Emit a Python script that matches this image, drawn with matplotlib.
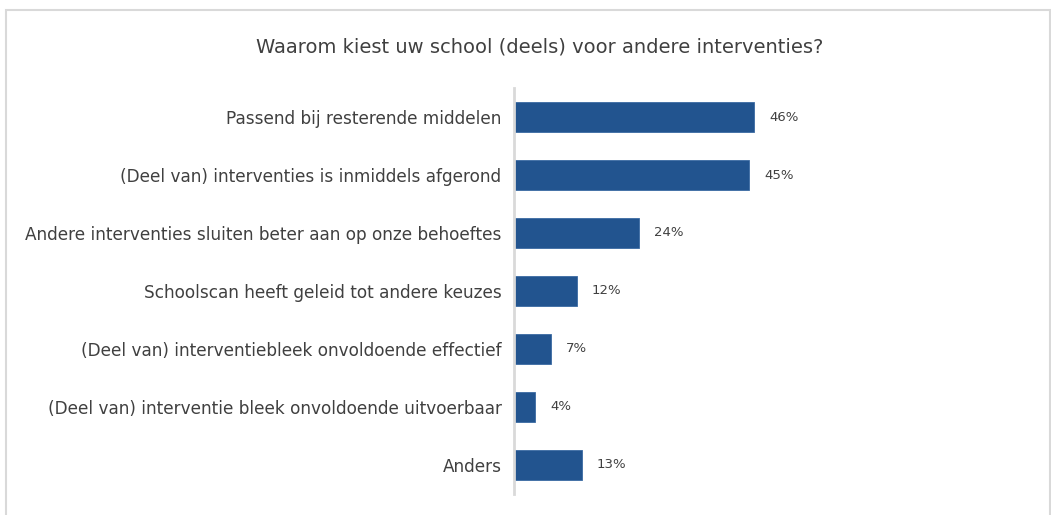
from matplotlib import pyplot as plt
from matplotlib.patches import Rectangle

categories = [
    "Passend bij resterende middelen",
    "(Deel van) interventies is inmiddels afgerond",
    "Andere interventies sluiten beter aan op onze behoeftes",
    "Schoolscan heeft geleid tot andere keuzes",
    "(Deel van) interventiebleek onvoldoende effectief",
    "(Deel van) interventie bleek onvoldoende uitvoerbaar",
    "Anders",
]
values = [46, 45, 24, 12, 7, 4, 13]

W, H = 1051, 515
fig = plt.figure(figsize=(W / 100, H / 100), dpi=100)
fig.patch.set_facecolor("white")

# light grey frame around the chart area
frame = Rectangle((5.5 / W, -0.05), (1050 - 5.5) / W, 1.05 - 9.5 / H,
                  fill=False, edgecolor="#d9d9d9", linewidth=1.5)
frame.set_transform(fig.transFigure)
fig.patches.append(frame)

left, right, top, bottom = 514, 1000, 88, 494
ax = fig.add_axes([left / W, (H - bottom) / H, (right - left) / W, (bottom - top) / H])
px_per_pct = 5.22
ax.set_xlim(0, (right - left) / px_per_pct)
ax.set_ylim(len(categories) - 0.5, -0.5)

ypos = list(range(len(categories)))
ax.barh(ypos, values, height=0.52, color="#22548f", edgecolor="#3a6aa3", linewidth=0.6)

for y, v in zip(ypos, values):
    ax.text(v + 15 / px_per_pct, y, f"{v}%", va="center", ha="left", fontsize=9.5,
            color="#404040", family="DejaVu Sans")

ax.set_yticks(ypos)
ax.set_yticklabels(categories, fontsize=12.2, color="#404040", family="DejaVu Sans")
ax.tick_params(axis="y", length=0, pad=9)
ax.set_xticks([])
for s in ["top", "right", "bottom"]:
    ax.spines[s].set_visible(False)
ax.spines["left"].set_color("#d9d9d9")
ax.spines["left"].set_linewidth(2)

fig.text(540 / W, 1 - 47 / H, "Waarom kiest uw school (deels) voor andere interventies?",
         ha="center", va="center", fontsize=14, color="#404040", family="DejaVu Sans")

fig.savefig("out.png", dpi=100)
